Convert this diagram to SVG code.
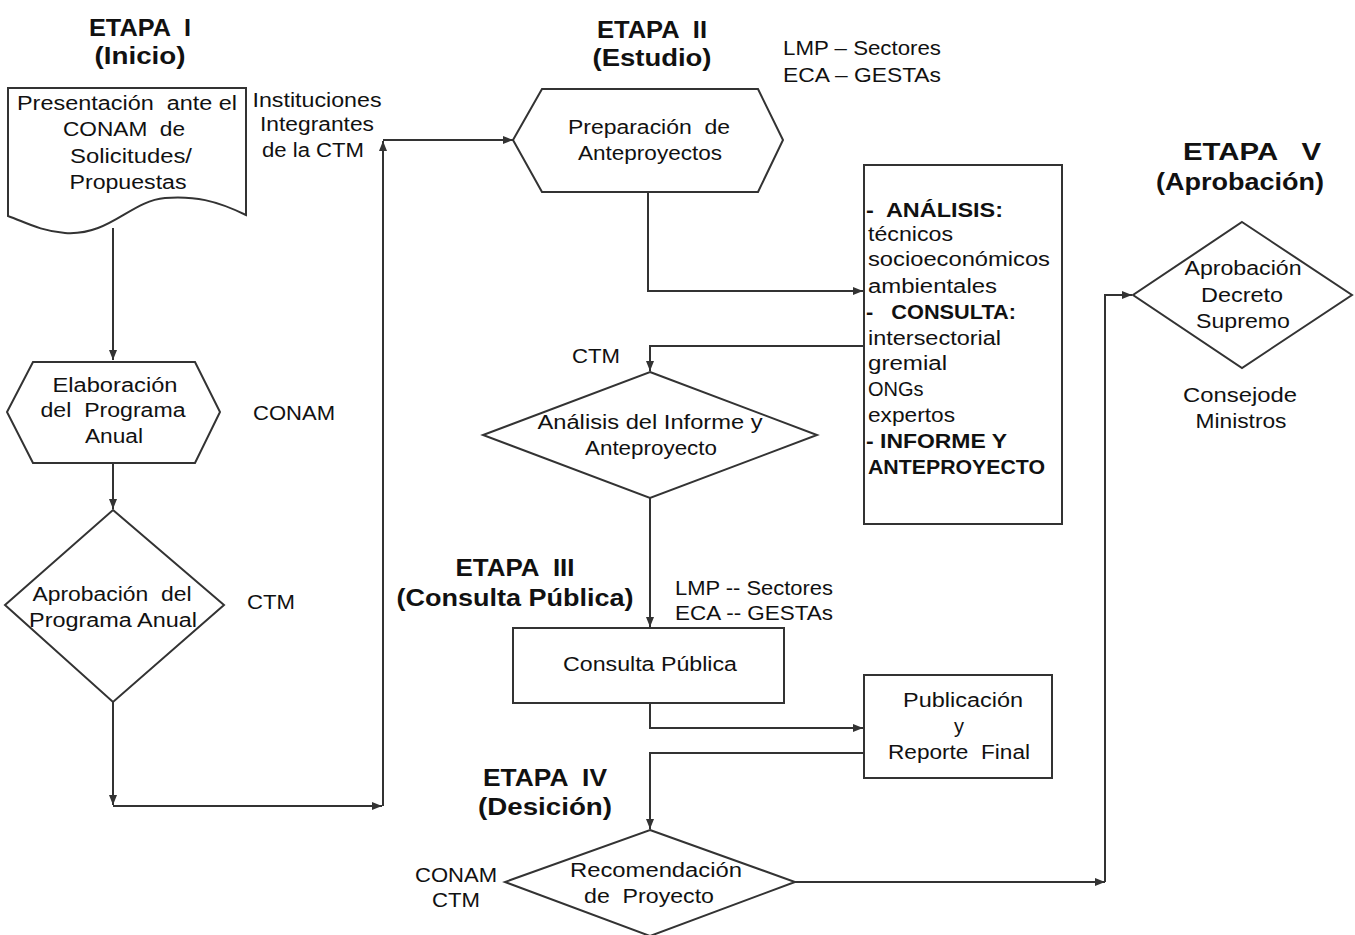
<svg xmlns="http://www.w3.org/2000/svg" width="1355" height="935" viewBox="0 0 1355 935">
<style>
text{font-family:"Liberation Sans",Arial,sans-serif;font-size:20px;fill:#111}
.t{text-anchor:middle}
.b{font-weight:bold;font-size:23px}
.sh{fill:#fff;stroke:#333;stroke-width:2}
.c{fill:none;stroke:#333;stroke-width:2}
</style>
<defs>
<marker id="a" viewBox="0 0 10 10" refX="10" refY="5" markerWidth="10" markerHeight="10" markerUnits="userSpaceOnUse" orient="auto"><path d="M0,1 L10,5 L0,9 Z" fill="#333"/></marker>
</defs>
<rect width="1355" height="935" fill="#fff"/>
<g id="connectors">
<path class="c" d="M113,228 V360" marker-end="url(#a)"/>
<path class="c" d="M113,463 V509" marker-end="url(#a)"/>
<path class="c" d="M113,702 V805" marker-end="url(#a)"/>
<path class="c" d="M113,806 H382" marker-end="url(#a)"/>
<path class="c" d="M383,806 V141" marker-end="url(#a)"/>
<path class="c" d="M383,140 H513" marker-end="url(#a)"/>
<path class="c" d="M648,192 V291 H863" marker-end="url(#a)"/>
<path class="c" d="M864,346 H650 V371" marker-end="url(#a)"/>
<path class="c" d="M650,498 V627" marker-end="url(#a)"/>
<path class="c" d="M650,703 V728 H863" marker-end="url(#a)"/>
<path class="c" d="M864,753 H650 V829" marker-end="url(#a)"/>
<path class="c" d="M795,882 H1105" marker-end="url(#a)"/>
<path class="c" d="M1105,882 V295 H1132" marker-end="url(#a)"/>
</g>
<g id="etapa1">
<text class="t b" x="140" y="36" textLength="102" lengthAdjust="spacingAndGlyphs" xml:space="preserve">ETAPA  I</text>
<text class="t b" x="140" y="64" textLength="91" lengthAdjust="spacingAndGlyphs">(Inicio)</text>
</g>
<g id="doc">
<path class="sh" d="M8,88 H246 V215 C215,200 195,196 165,198 C130,201 110,236 65,233 C40,231 25,222 8,216 Z"/>
<text class="t" x="127" y="110" textLength="220" lengthAdjust="spacingAndGlyphs" xml:space="preserve">Presentación  ante el</text>
<text class="t" x="124" y="136" textLength="122" lengthAdjust="spacingAndGlyphs" xml:space="preserve">CONAM  de</text>
<text class="t" x="131" y="163" textLength="122" lengthAdjust="spacingAndGlyphs">Solicitudes/</text>
<text class="t" x="128" y="189" textLength="117" lengthAdjust="spacingAndGlyphs">Propuestas</text>
</g>
<g id="inst">
<text class="t" x="317" y="107" textLength="129" lengthAdjust="spacingAndGlyphs">Instituciones</text>
<text class="t" x="317" y="131" textLength="114" lengthAdjust="spacingAndGlyphs">Integrantes</text>
<text class="t" x="313" y="157" textLength="102" lengthAdjust="spacingAndGlyphs">de la CTM</text>
</g>
<g id="hex1">
<path class="sh" d="M33,362 H195 L220,412 L195,463 H33 L7,412 Z"/>
<text class="t" x="115" y="392" textLength="125" lengthAdjust="spacingAndGlyphs">Elaboración</text>
<text class="t" x="113" y="417" textLength="145" lengthAdjust="spacingAndGlyphs" xml:space="preserve">del  Programa</text>
<text class="t" x="114" y="443" textLength="58" lengthAdjust="spacingAndGlyphs">Anual</text>
<text x="253" y="420" textLength="82" lengthAdjust="spacingAndGlyphs">CONAM</text>
</g>
<g id="dia1">
<path class="sh" d="M113,510 L224,605 L113,702 L5,605 Z"/>
<text class="t" x="112" y="601" textLength="159" lengthAdjust="spacingAndGlyphs" xml:space="preserve">Aprobación  del</text>
<text class="t" x="113" y="627" textLength="168" lengthAdjust="spacingAndGlyphs">Programa Anual</text>
<text x="247" y="609" textLength="48" lengthAdjust="spacingAndGlyphs">CTM</text>
</g>
<g id="etapa2">
<text class="t b" x="652" y="38" textLength="110" lengthAdjust="spacingAndGlyphs" xml:space="preserve">ETAPA  II</text>
<text class="t b" x="652" y="66" textLength="119" lengthAdjust="spacingAndGlyphs">(Estudio)</text>
<text x="783" y="55" textLength="158" lengthAdjust="spacingAndGlyphs">LMP – Sectores</text>
<text x="783" y="82" textLength="158" lengthAdjust="spacingAndGlyphs">ECA – GESTAs</text>
</g>
<g id="hex2">
<path class="sh" d="M542,89 H758 L783,140 L758,192 H542 L513,140 Z"/>
<text class="t" x="649" y="134" textLength="162" lengthAdjust="spacingAndGlyphs" xml:space="preserve">Preparación  de</text>
<text class="t" x="650" y="160" textLength="144" lengthAdjust="spacingAndGlyphs">Anteproyectos</text>
</g>
<g id="box1">
<rect class="sh" x="864" y="165" width="198" height="359"/>
<text x="866" y="217" font-weight="bold" textLength="137" lengthAdjust="spacingAndGlyphs" xml:space="preserve">-  ANÁLISIS:</text>
<text x="868" y="241" textLength="85" lengthAdjust="spacingAndGlyphs">técnicos</text>
<text x="868" y="266" textLength="182" lengthAdjust="spacingAndGlyphs">socioeconómicos</text>
<text x="868" y="293" textLength="129" lengthAdjust="spacingAndGlyphs">ambientales</text>
<text x="866" y="319" font-weight="bold" textLength="150" lengthAdjust="spacingAndGlyphs" xml:space="preserve">-   CONSULTA:</text>
<text x="868" y="345" textLength="133" lengthAdjust="spacingAndGlyphs">intersectorial</text>
<text x="868" y="370" textLength="79" lengthAdjust="spacingAndGlyphs">gremial</text>
<text x="868" y="396">ONGs</text>
<text x="868" y="422" textLength="87" lengthAdjust="spacingAndGlyphs">expertos</text>
<text x="866" y="448" font-weight="bold" textLength="141" lengthAdjust="spacingAndGlyphs">- INFORME Y</text>
<text x="868" y="474" font-weight="bold" textLength="177" lengthAdjust="spacingAndGlyphs">ANTEPROYECTO</text>
</g>
<g id="dia2">
<text class="t" x="596" y="363" textLength="48" lengthAdjust="spacingAndGlyphs">CTM</text>
<path class="sh" d="M650,372 L817,435 L650,498 L483,435 Z"/>
<text class="t" x="650" y="429" textLength="225" lengthAdjust="spacingAndGlyphs">Análisis del Informe y</text>
<text class="t" x="651" y="455" textLength="132" lengthAdjust="spacingAndGlyphs">Anteproyecto</text>
</g>
<g id="etapa3">
<text class="t b" x="515" y="576" textLength="119" lengthAdjust="spacingAndGlyphs" xml:space="preserve">ETAPA  III</text>
<text class="t b" x="515" y="606" textLength="237" lengthAdjust="spacingAndGlyphs">(Consulta Pública)</text>
<text x="675" y="595" textLength="158" lengthAdjust="spacingAndGlyphs">LMP -- Sectores</text>
<text x="675" y="620" textLength="158" lengthAdjust="spacingAndGlyphs">ECA -- GESTAs</text>
</g>
<g id="box2">
<rect class="sh" x="513" y="628" width="271" height="75"/>
<text class="t" x="650" y="671" textLength="174" lengthAdjust="spacingAndGlyphs">Consulta Pública</text>
</g>
<g id="box3">
<rect class="sh" x="864" y="675" width="188" height="103"/>
<text class="t" x="963" y="707" textLength="120" lengthAdjust="spacingAndGlyphs">Publicación</text>
<text class="t" x="959" y="733">y</text>
<text class="t" x="959" y="759" textLength="142" lengthAdjust="spacingAndGlyphs" xml:space="preserve">Reporte  Final</text>
</g>
<g id="etapa4">
<text class="t b" x="545" y="786" textLength="124" lengthAdjust="spacingAndGlyphs" xml:space="preserve">ETAPA  IV</text>
<text class="t b" x="545" y="815" textLength="134" lengthAdjust="spacingAndGlyphs">(Desición)</text>
</g>
<g id="dia3">
<path class="sh" d="M650,830 L795,882 L650,936 L505,882 Z"/>
<text class="t" x="656" y="877" textLength="172" lengthAdjust="spacingAndGlyphs">Recomendación</text>
<text class="t" x="649" y="903" textLength="130" lengthAdjust="spacingAndGlyphs" xml:space="preserve">de  Proyecto</text>
<text class="t" x="456" y="882" textLength="82" lengthAdjust="spacingAndGlyphs">CONAM</text>
<text class="t" x="456" y="907" textLength="48" lengthAdjust="spacingAndGlyphs">CTM</text>
</g>
<g id="etapa5">
<text class="t b" x="1252" y="160" textLength="138" lengthAdjust="spacingAndGlyphs" xml:space="preserve">ETAPA   V</text>
<text class="t b" x="1240" y="190" textLength="168" lengthAdjust="spacingAndGlyphs">(Aprobación)</text>
</g>
<g id="dia5">
<path class="sh" d="M1242,222 L1352,295 L1242,368 L1133,295 Z"/>
<text class="t" x="1243" y="275" textLength="117" lengthAdjust="spacingAndGlyphs">Aprobación</text>
<text class="t" x="1242" y="302" textLength="82" lengthAdjust="spacingAndGlyphs">Decreto</text>
<text class="t" x="1243" y="328" textLength="94" lengthAdjust="spacingAndGlyphs">Supremo</text>
<text class="t" x="1240" y="402" textLength="114" lengthAdjust="spacingAndGlyphs">Consejode</text>
<text class="t" x="1241" y="428" textLength="91" lengthAdjust="spacingAndGlyphs">Ministros</text>
</g>
</svg>
